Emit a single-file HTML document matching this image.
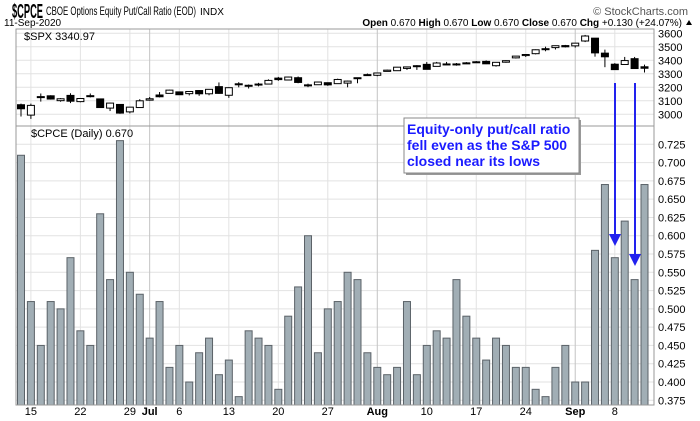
<!DOCTYPE html>
<html><head><meta charset="utf-8"><style>
body{margin:0;background:#fff;}
svg{display:block;font-family:"Liberation Sans",sans-serif;}
</style></head><body>
<svg id="chart" width="700" height="421" viewBox="0 0 700 421">
<g id="hdr">
<text x="12" y="18" font-size="20" font-weight="bold" textLength="31" lengthAdjust="spacingAndGlyphs">$CPCE</text>
<text x="46" y="15" font-size="12" textLength="150" lengthAdjust="spacingAndGlyphs">CBOE Options Equity Put/Call Ratio (EOD)</text>
<text x="200" y="15" font-size="10">INDX</text>
<text x="688" y="15" font-size="11" fill="#555" text-anchor="end">© StockCharts.com</text>
<text x="4" y="26" font-size="10">11-Sep-2020</text>
<text x="682" y="26" font-size="10" text-anchor="end"><tspan font-weight="bold">Open</tspan> 0.670  <tspan font-weight="bold">High</tspan> 0.670  <tspan font-weight="bold">Low</tspan> 0.670  <tspan font-weight="bold">Close</tspan> 0.670  <tspan font-weight="bold">Chg</tspan> +0.130 (+24.07%)</text>
<path d="M686 25 l3 -5 l3 5z" fill="#000"/>
</g>
<g id="grid"></g>
<g id="bars"></g>
<g id="candles"></g>
<g id="axes"></g>
<rect x="16" y="29" width="638" height="376" fill="none" stroke="#999"/>
<line x1="16" y1="126" x2="654" y2="126" stroke="#999"/>
<text x="24" y="40" font-size="11">$SPX 3340.97</text>
<text x="31" y="137" font-size="11">$CPCE (Daily) 0.670</text>
<g>
<rect x="406" y="120" width="175" height="55" fill="#999"/>
<rect x="404" y="118" width="175" height="55" fill="#fff" stroke="#888"/>
<text font-size="14" font-weight="bold" fill="#1a1aff">
<tspan x="407" y="134">Equity-only put/call ratio</tspan>
<tspan x="407" y="150">fell even as the S&amp;P 500</tspan>
<tspan x="407" y="166">closed near its lows</tspan></text>
<line x1="615" y1="83" x2="615" y2="236" stroke="#2222ee" stroke-width="2"/>
<path d="M609 234 h12 l-6 12z" fill="#2222ee"/>
<line x1="635" y1="83" x2="635" y2="256" stroke="#2222ee" stroke-width="2"/>
<path d="M629 254 h12 l-6 12z" fill="#2222ee"/>
</g>
</svg>
<script>
const ratio=[0.71,0.51,0.45,0.51,0.50,0.57,0.47,0.45,0.63,0.54,0.73,0.55,0.52,0.46,0.51,0.42,0.45,0.40,0.44,0.46,0.41,0.43,0.38,0.47,0.46,0.45,0.39,0.49,0.53,0.60,0.44,0.50,0.51,0.55,0.54,0.44,0.42,0.41,0.42,0.51,0.41,0.45,0.47,0.46,0.54,0.49,0.46,0.43,0.46,0.45,0.42,0.42,0.39,0.38,0.42,0.45,0.40,0.40,0.58,0.67,0.57,0.62,0.54,0.67];
const spxOpen=[3071,2994,3131,3137,3101,3140,3094,3138,3114,3046,3073,3018,3050,3105,3143,3155,3166,3153,3176,3152,3205,3141,3225,3208,3224,3224,3268,3254,3271,3218,3219,3234,3227,3231,3270,3288,3289,3318,3323,3340,3356,3370,3355,3372,3368,3380,3387,3392,3360,3386,3418,3435,3449,3486,3494,3509,3507,3543,3564,3453,3371,3369,3412,3352];
const spxClose=[3041,3066,3124,3113,3115,3097,3117,3131,3050,3083,3009,3053,3100,3115,3130,3179,3145,3169,3152,3185,3155,3197,3226,3215,3224,3251,3257,3276,3236,3215,3239,3218,3258,3246,3271,3294,3306,3327,3349,3351,3360,3333,3380,3373,3373,3381,3389,3374,3385,3397,3431,3443,3478,3484,3508,3500,3527,3580,3455,3426,3331,3398,3339,3341];
const spxHigh=[3079,3079,3154,3141,3120,3156,3120,3154,3115,3086,3073,3053,3112,3128,3165,3182,3168,3170,3180,3187,3236,3200,3238,3221,3233,3259,3277,3280,3280,3227,3242,3236,3264,3250,3272,3302,3307,3331,3351,3353,3364,3387,3388,3388,3380,3387,3395,3399,3386,3400,3432,3445,3481,3501,3510,3514,3529,3588,3565,3479,3379,3425,3425,3368];
const spxLow=[2984,2966,3094,3109,3093,3083,3089,3125,3048,3024,3004,3007,3047,3101,3125,3156,3144,3140,3137,3141,3152,3122,3200,3191,3207,3224,3248,3251,3230,3201,3219,3211,3226,3200,3230,3285,3282,3318,3321,3329,3329,3333,3355,3365,3360,3375,3382,3372,3353,3382,3413,3425,3444,3467,3480,3495,3494,3535,3427,3349,3329,3369,3337,3310];
const dayLabels=["15","22","29","Jul","6","13","20","27","Aug","10","17","24","Sep","8"];
const labelIdx=[1,6,11,13,16,21,26,31,36,41,46,51,56,60];
const ratioTicks=[0.375,0.400,0.425,0.450,0.475,0.500,0.525,0.550,0.575,0.600,0.625,0.650,0.675,0.700,0.725];
const spxTicks=[3000,3100,3200,3300,3400,3500,3600];

const NS="http://www.w3.org/2000/svg";
function mk(tag,attrs,parent,txt){const e=document.createElementNS(NS,tag);for(const k in attrs)e.setAttribute(k,attrs[k]);if(txt!==undefined)e.textContent=txt;parent.appendChild(e);return e;}
const xAt=i=>21+i*(623.5/(ratio.length-1));
const yR=v=>144.3+(0.725-v)*731.4;
const yS=v=>33.3+(3600-v)*0.135;
const grid=document.getElementById('grid'),bars=document.getElementById('bars'),cand=document.getElementById('candles'),axes=document.getElementById('axes');

ratioTicks.forEach(t=>{
 const l=mk('line',{x1:16,x2:654,y1:yR(t),y2:yR(t),stroke:'#e2e2e2'},grid);
 
 
 const tx=mk('text',{x:658,y:yR(t)+4,'font-size':11},axes,'0'+t.toFixed(3).slice(1));
 
 
});
spxTicks.forEach(t=>{
 const l=mk('line',{x1:16,x2:654,y1:yS(t),y2:yS(t),stroke:'#e2e2e2'},grid);
 
 
 const tx=mk('text',{x:658,y:yS(t)+4,'font-size':11},axes,String(t));
 
 
});
labelIdx.forEach((idx,k)=>{
 const month=isNaN(+dayLabels[k]);
 const l=mk('line',{x1:xAt(idx),x2:xAt(idx),y1:29,y2:405,stroke:month?'#c4c4c4':'#e2e2e2'},grid);
 
 
 const tx=mk('text',{x:xAt(idx),y:415,'font-size':11,'text-anchor':'middle','font-weight':month?'bold':'normal'},axes,dayLabels[k]);
 
 
});
ratio.forEach((v,i)=>{
 const y=yR(v);
 const r=mk('rect',{x:xAt(i)-3.5,y:y,width:7,height:405-y,fill:'#a1aeb5',stroke:'#5b6268','stroke-width':1},bars);
 
 
});
spxClose.forEach((c,i)=>{
 const o=spxOpen[i],x=xAt(i);
 const w=mk('line',{x1:x,x2:x,y1:yS(spxHigh[i]),y2:yS(spxLow[i]),stroke:'#000'},cand);
 
 
 const top=yS(Math.max(o,c)),h=Math.max(1,yS(Math.min(o,c))-top);
 const r=mk('rect',{x:x-3.5,y:top,width:7,height:h,fill:c>=o?'#fff':'#000',stroke:'#000'},cand);
 
 
});
</script>
</body></html>
